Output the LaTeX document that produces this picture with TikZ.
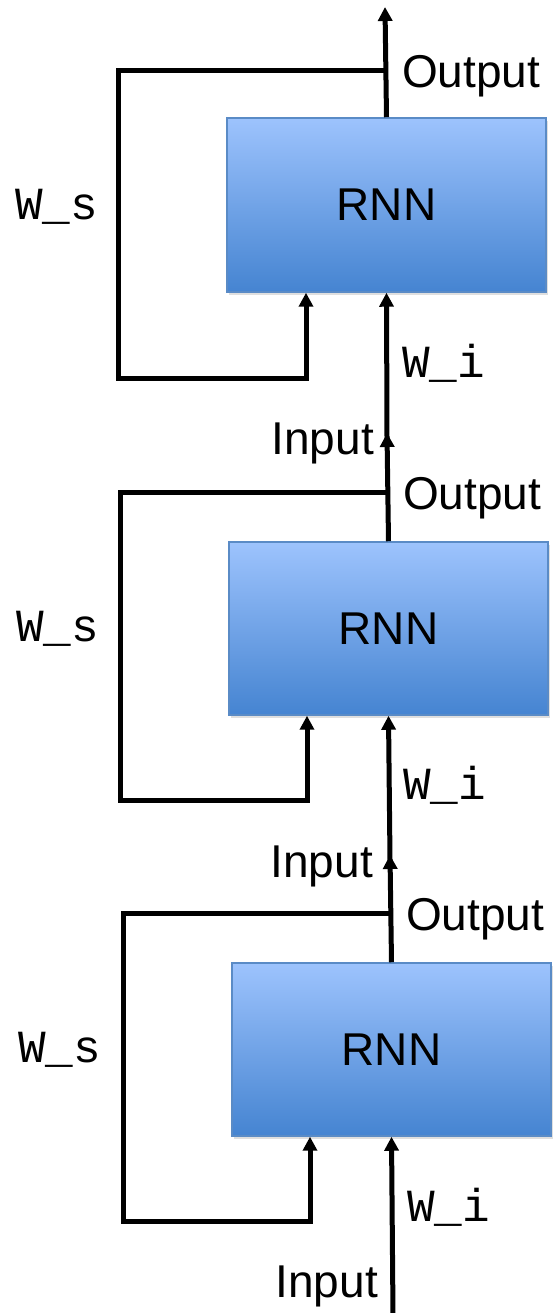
\documentclass[tikz,border=0pt]{standalone}
\usepackage{fontspec}
\setmainfont{Liberation Sans}
\newfontfamily\monofnt{Liberation Mono}
\usetikzlibrary{arrows.meta,shadows}
\definecolor{boxtop}{HTML}{9DC3FD}
\definecolor{boxbot}{HTML}{4584D1}
\definecolor{boxedge}{HTML}{5A8BC6}
\tikzset{
  rnnbox/.style={draw=boxedge, line width=1.5pt, top color=boxtop, bottom color=boxbot,
    minimum width=319pt, minimum height=174pt, inner sep=0pt,
    drop shadow={opacity=0.25, shadow xshift=2pt, shadow yshift=-3pt},
    font=\fontsize{46}{50}\selectfont},
  wire/.style={line width=5pt, line cap=rect, line join=miter},
  arr/.style={line width=5pt, -{Triangle[length=14pt,width=14pt]}},
  lbl/.style={inner sep=0pt, font=\fontsize{46}{50}\selectfont},
  mlbl/.style={inner sep=0pt, font=\fontsize{46}{50}\selectfont\monofnt},
}
\begin{document}
\begin{tikzpicture}[x=1pt,y=1pt]
\useasboundingbox (0,0) rectangle (554,1313);
% ---------- block 1 (top) ----------
\node[rnnbox, minimum height=174pt] (b1) at (386.5,1108) {\raisebox{-3pt}{RNN}};
\coordinate (o1) at (385,1306);
\coordinate (l1s) at (381,1242);
\coordinate (l1a) at (118,1242);
\coordinate (l1b) at (118,934);
\coordinate (l1c) at (306,934);
\coordinate (i1s) at (387,875);
\draw[arr] (b1.north) -- (o1);
\draw[wire] (l1s) -- (l1a) -- (l1b) -- (l1c);
\draw[arr] (l1c) -- (l1c |- b1.south);
\draw[arr] (i1s) -- (b1.south);
\node[lbl, anchor=base west] (out1) at (402,1225) {Output};
\node[mlbl, anchor=base west] (ws1) at (15,1093) {W\_s};
\node[mlbl, anchor=base west] (wi1) at (402,935) {W\_i};
\node[lbl, anchor=base east] (in1) at (374,858) {Input};
% ---------- block 2 (middle) ----------
\node[rnnbox, minimum height=173pt] (b2) at (388.5,684.5) {\raisebox{-3pt}{RNN}};
\coordinate (o2) at (387,880);
\coordinate (l2s) at (384,820);
\coordinate (l2a) at (120,820);
\coordinate (l2b) at (120,512);
\coordinate (l2c) at (307,512);
\coordinate (i2s) at (390,453);
\draw[arr] (b2.north) -- (o2);
\draw[wire] (l2s) -- (l2a) -- (l2b) -- (l2c);
\draw[arr] (l2c) -- (l2c |- b2.south);
\draw[arr] (i2s) -- (b2.south);
\node[lbl, anchor=base west] (out2) at (403,803) {Output};
\node[mlbl, anchor=base west] (ws2) at (16,671) {W\_s};
\node[mlbl, anchor=base west] (wi2) at (403,513) {W\_i};
\node[lbl, anchor=base east] (in2) at (373,435) {Input};
% ---------- block 3 (bottom) ----------
\node[rnnbox, minimum height=173pt] (b3) at (391.5,263.5) {\raisebox{-3pt}{RNN}};
\coordinate (o3) at (390,458);
\coordinate (l3s) at (386,399);
\coordinate (l3a) at (123,399);
\coordinate (l3b) at (123,91);
\coordinate (l3c) at (310,91);
\coordinate (i3s) at (393,-2);
\draw[arr] (b3.north) -- (o3);
\draw[wire] (l3s) -- (l3a) -- (l3b) -- (l3c);
\draw[arr] (l3c) -- (l3c |- b3.south);
\draw[arr] (i3s) -- (b3.south);
\node[lbl, anchor=base west] (out3) at (406,382) {Output};
\node[mlbl, anchor=base west] (ws3) at (18,250) {W\_s};
\node[mlbl, anchor=base west] (wi3) at (407,91) {W\_i};
\node[lbl, anchor=base east] (in3) at (378,16) {Input};
\end{tikzpicture}
\end{document}
